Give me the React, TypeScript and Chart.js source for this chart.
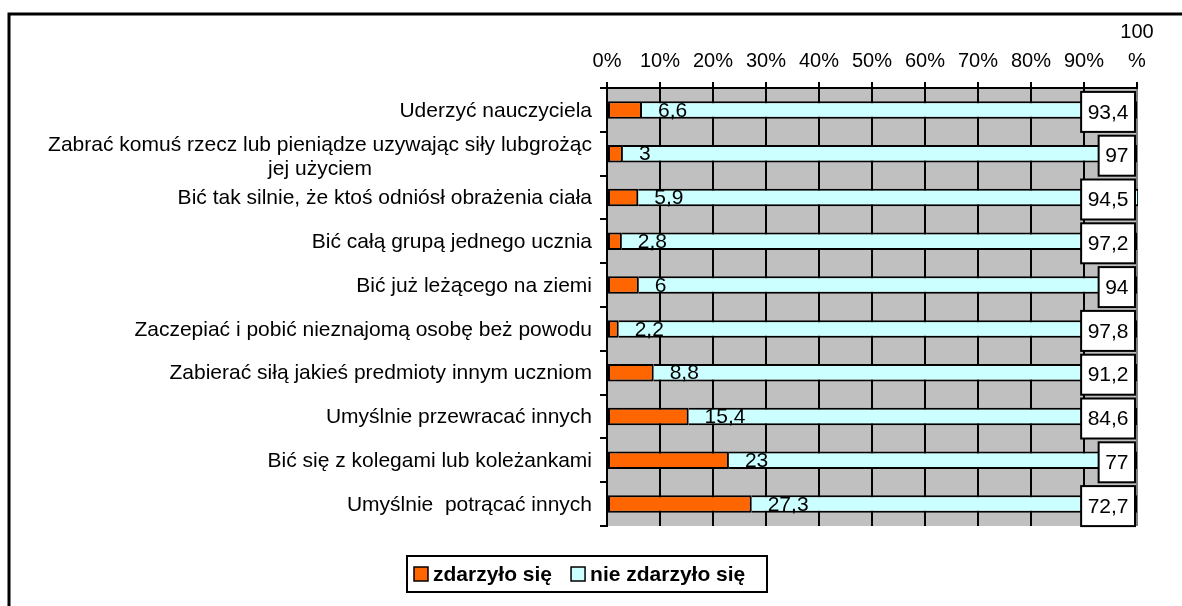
import React, { useEffect, useRef } from "react";
import { Chart, registerables } from "chart.js";

Chart.register(...registerables);

const categories: (string | string[])[] = [
  "Uderzyć nauczyciela",
  ["Zabrać komuś rzecz lub pieniądze uzywając siły lubgrożąc", "jej użyciem"],
  "Bić tak silnie, że ktoś odniósł obrażenia ciała",
  "Bić całą grupą jednego ucznia",
  "Bić już leżącego na ziemi",
  "Zaczepiać i pobić nieznajomą osobę beż powodu",
  "Zabierać siłą jakieś predmioty innym uczniom",
  "Umyślnie przewracać innych",
  "Bić się z kolegami lub koleżankami",
  "Umyślnie  potrącać innych",
];

const happened = [6.6, 3, 5.9, 2.8, 6, 2.2, 8.8, 15.4, 23, 27.3];
const notHappened = [93.4, 97, 94.5, 97.2, 94, 97.8, 91.2, 84.6, 77, 72.7];
const seriesNames = ["zdarzyło się", "nie zdarzyło się"];
const seriesColors = ["#FF6600", "#CCFFFF"];

const FONT = '"Liberation Sans", Arial, Helvetica, sans-serif';
const fmt = (v: number) => String(v).replace(".", ",");

export default function App() {
  const ref = useRef<HTMLCanvasElement | null>(null);

  useEffect(() => {
    const prev = document.body.style.margin;
    document.body.style.margin = "0";
    const canvas = ref.current;
    if (!canvas) return;

    const background = {
      id: "background",
      beforeDraw(chart: any) {
        const { ctx, chartArea } = chart;
        ctx.save();
        ctx.fillStyle = "#FFFFFF";
        ctx.fillRect(0, 0, chart.width, chart.height);
        ctx.fillStyle = "#C0C0C0";
        ctx.fillRect(chartArea.left, chartArea.top, chartArea.right - chartArea.left, chartArea.bottom - chartArea.top);
        ctx.restore();
      },
    };

    const dataLabels = {
      id: "dataLabels",
      afterDatasetsDraw(chart: any) {
        const { ctx, chartArea } = chart;
        ctx.save();
        ctx.fillStyle = "#000";
        ctx.font = `21px ${FONT}`;
        ctx.textBaseline = "middle";
        ctx.textAlign = "left";
        const m0 = chart.getDatasetMeta(0);
        m0.data.forEach((bar: any, i: number) => {
          const v = chart.data.datasets[0].data[i] as number;
          ctx.fillText(fmt(v), bar.x + 16, bar.y + 1);
        });
        const m1 = chart.getDatasetMeta(1);
        m1.data.forEach((bar: any, i: number) => {
          const v = chart.data.datasets[1].data[i] as number;
          const t = fmt(v);
          const w = ctx.measureText(t).width;
          const bw = w + 13;
          const bh = 40;
          const right = Math.min(bar.x, chartArea.right) - 2;
          const bx = right - bw;
          const by = bar.y + 2 - bh / 2;
          ctx.fillStyle = "#FFFFFF";
          ctx.fillRect(bx, by, bw, bh);
          ctx.strokeStyle = "#000";
          ctx.lineWidth = 2;
          ctx.strokeRect(bx, by, bw, bh);
          ctx.fillStyle = "#000";
          ctx.textAlign = "center";
          ctx.fillText(t, bx + bw / 2, by + bh / 2 + 1);
          ctx.textAlign = "left";
        });
        ctx.restore();
      },
    };

    const extras = {
      id: "extras",
      afterDraw(chart: any) {
        const { ctx } = chart;
        const yScale = chart.scales.y;
        ctx.save();
        // category labels
        ctx.fillStyle = "#000";
        ctx.font = `21px ${FONT}`;
        ctx.textBaseline = "middle";
        const rightEdge = 592;
        const lineH = 24;
        (chart.data.labels as (string | string[])[]).forEach((lab, i) => {
          const y = yScale.getPixelForValue(i);
          const lines = Array.isArray(lab) ? lab : [lab];
          const widths = lines.map((l) => ctx.measureText(l).width);
          const maxW = Math.max(...widths);
          const cx = rightEdge - maxW / 2;
          const startY = y - ((lines.length - 1) * lineH) / 2 + (lines.length > 1 ? 3 : 0);
          ctx.textAlign = "center";
          lines.forEach((l, k) => ctx.fillText(l, cx, startY + k * lineH + 1));
        });

        // legend
        const lx = 407, ly = 556, lw = 360, lh = 36;
        ctx.fillStyle = "#FFFFFF";
        ctx.fillRect(lx, ly, lw, lh);
        ctx.strokeStyle = "#000";
        ctx.lineWidth = 2;
        ctx.strokeRect(lx, ly, lw, lh);
        const cy = ly + lh / 2;
        let x = lx + 7;
        ctx.font = `bold 21px ${FONT}`;
        ctx.textAlign = "left";
        chart.data.datasets.forEach((ds: any) => {
          ctx.fillStyle = ds.backgroundColor;
          ctx.fillRect(x, cy - 7, 14, 14);
          ctx.lineWidth = 1.5;
          ctx.strokeStyle = "#000";
          ctx.strokeRect(x, cy - 7, 14, 14);
          x += 19;
          ctx.fillStyle = "#000";
          ctx.fillText(ds.label, x, cy + 1);
          x += ctx.measureText(ds.label).width + 19;
        });

        // outer frame
        ctx.strokeStyle = "#000";
        ctx.lineWidth = 3;
        ctx.beginPath();
        ctx.moveTo(9, 606);
        ctx.lineTo(9, 14);
        ctx.lineTo(1182, 14);
        ctx.stroke();
        ctx.restore();
      },
    };

    const chart = new Chart(canvas, {
      type: "bar",
      data: {
        labels: categories as any,
        datasets: [
          {
            label: seriesNames[0],
            data: happened,
            backgroundColor: seriesColors[0],
            borderColor: "#000",
            borderWidth: 2,
            borderSkipped: false,
            categoryPercentage: 1,
            barPercentage: 0.4,
          },
          {
            label: seriesNames[1],
            data: notHappened,
            backgroundColor: seriesColors[1],
            borderColor: "#000",
            borderWidth: { top: 2, bottom: 2, right: 2, left: 0 },
            borderSkipped: false,
            categoryPercentage: 1,
            barPercentage: 0.4,
            clip: 1,
          },
        ],
      },
      options: {
        indexAxis: "y",
        responsive: false,
        animation: false,
        devicePixelRatio: 1,
        layout: { padding: { left: 600, right: 45, top: 0, bottom: 80 } },
        plugins: { legend: { display: false }, tooltip: { enabled: false } },
        scales: {
          x: {
            type: "linear",
            position: "top",
            min: 0,
            max: 100,
            stacked: true,
            afterFit: (s: any) => {
              s.height = 88;
            },
            ticks: {
              stepSize: 10,
              autoSkip: false,
              maxRotation: 0,
              padding: 6,
              color: "#000",
              font: { family: FONT, size: 20, lineHeight: 1.45 },
              callback: (v: any) => (Number(v) === 100 ? ["100", "%"] : `${v}%`),
            },
            grid: {
              color: (c: any) => (c.index === 10 ? "#808080" : "#000"),
              lineWidth: 2,
              tickColor: "#000",
              tickLength: 6,
              drawTicks: true,
            },
            border: { display: true, color: "#000", width: 2 },
          },
          y: {
            type: "category",
            position: "left",
            stacked: true,
            offset: true,
            ticks: { display: false },
            grid: {
              drawOnChartArea: false,
              drawTicks: true,
              tickLength: 7,
              color: "#000",
              lineWidth: 2,
              offset: true,
            },
            border: { display: true, color: "#000", width: 2 },
          },
        },
      },
      plugins: [background, dataLabels, extras],
    } as any);

    return () => {
      chart.destroy();
      document.body.style.margin = prev;
    };
  }, []);

  return (
    <div style={{ width: 1182, height: 606 }}>
      <canvas ref={ref} width={1182} height={606} style={{ display: "block" }} />
    </div>
  );
}
